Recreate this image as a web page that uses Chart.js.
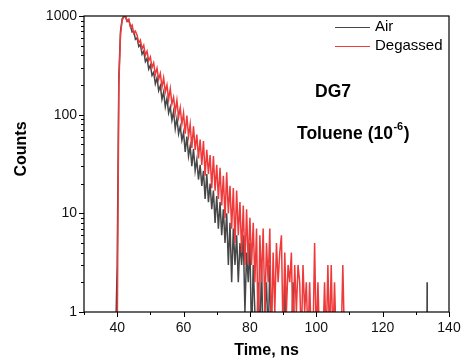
<!DOCTYPE html>
<html>
<head>
<meta charset="utf-8">
<script src="https://cdn.jsdelivr.net/npm/chart.js@4.4.1/dist/chart.umd.min.js"></script>
<style>
  html, body { margin: 0; padding: 0; background: #fff; }
  canvas { display: block; }
</style>
</head>
<body>
<canvas id="decay" width="464" height="364"></canvas>
<script>
// Time channels (ns)
const times = [
  39.5, 40, 40.5, 41, 41.5, 42, 42.5, 43, 43.5, 44,
  44.5, 45, 45.5, 46, 46.5, 47, 47.5, 48, 48.5, 49,
  49.5, 50, 50.5, 51, 51.5, 52, 52.5, 53, 53.5, 54,
  54.5, 55, 55.5, 56, 56.5, 57, 57.5, 58, 58.5, 59,
  59.5, 60, 60.5, 61, 61.5, 62, 62.5, 63, 63.5, 64,
  64.5, 65, 65.5, 66, 66.5, 67, 67.5, 68, 68.5, 69,
  69.5, 70, 70.5, 71, 71.5, 72, 72.5, 73, 73.5, 74,
  74.5, 75, 75.5, 76, 76.5, 77, 77.5, 78, 78.5, 79,
  79.5, 80, 80.5, 81, 81.5, 82, 82.5, 83, 83.5, 84,
  84.5, 85, 85.5, 86, 86.5, 87, 87.5, 88, 88.5, 89,
  89.5, 90, 90.5, 91, 91.5, 92, 92.5, 93, 93.5, 94,
  94.5, 95, 95.5, 96, 96.5, 97, 97.5, 98, 98.5, 99,
  99.5, 100, 100.5, 101, 101.5, 102, 102.5, 103, 103.5, 104,
  104.5, 105, 105.5, 106, 106.5, 107, 107.5, 108, 108.5, 109,
  109.5, 110
];

// Counts per channel (0 = empty channel)
const airCounts = [
  0, 3, 240, 700, 935, 990, 985, 880, 905, 790,
  690, 700, 580, 600, 490, 515, 410, 440, 345, 372,
  290, 318, 250, 268, 205, 236, 175, 196, 143, 170,
  120, 146, 104, 120, 88, 108, 72, 92, 64, 76,
  55, 66, 42, 60, 38, 48, 30, 45, 27, 35,
  22, 31, 19, 27, 14, 25, 13, 20, 11, 17,
  8, 15, 7, 13, 6, 11, 5, 10, 3, 8,
  2, 7, 3, 6, 2, 5, 3, 6, 1, 4,
  2, 5, 0, 3, 1, 0, 2, 0, 3, 0,
  1, 2, 0, 3, 0, 0, 1, 0, 0, 1,
  0, 0, 2, 0, 0, 0, 0, 2, 0, 0,
  0, 0, 0, 0, 0, 0, 0, 0, 0, 0,
  0, 0, 0, 0, 0, 0, 0, 0, 0, 0,
  0, 0, 0, 0, 0, 0, 0, 0, 0, 0,
  0, 0
];

const degassedCounts = [
  0, 0, 200, 650, 900, 985, 1000, 890, 930, 770,
  810, 665, 700, 640, 535, 570, 465, 505, 400, 440,
  352, 385, 300, 335, 255, 296, 228, 262, 190, 236,
  170, 200, 142, 184, 128, 150, 106, 140, 94, 118,
  80, 104, 64, 98, 60, 80, 46, 76, 44, 63,
  36, 56, 31, 54, 24, 44, 25, 39, 18, 38,
  17, 31, 14, 29, 12, 24, 9, 26, 10, 19,
  7, 18, 5, 17, 6, 13, 4, 12, 3, 11,
  3, 9, 3, 8, 2, 7, 0, 6, 2, 7,
  1, 5, 2, 7, 0, 4, 1, 5, 2, 4,
  6, 0, 4, 1, 3, 2, 4, 0, 3, 1,
  3, 2, 0, 3, 1, 2, 0, 2, 0, 0,
  5, 0, 2, 0, 0, 0, 2, 0, 3, 0,
  3, 0, 2, 0, 0, 0, 0, 3, 0, 0,
  0, 0
];

// stray count far out in the air trace
const airLateTimes = [133.35, 133.4, 133.45];
const airLateCounts = [0, 2, 0];

const seriesNames = ['Air', 'Degassed'];
const xLabels = [40, 60, 80, 100, 120, 140];
const yTicks = [1, 2, 3, 4, 5, 6, 7, 8, 9,
  10, 20, 30, 40, 50, 60, 70, 80, 90,
  100, 200, 300, 400, 500, 600, 700, 800, 900, 1000];
const yLabels = [1, 10, 100, 1000];
const xTitle = 'Time, ns';
const yTitle = 'Counts';
const sampleName = 'DG7';
const solventText = ['Toluene (10', '-6', ')'];

const FONT = '"Liberation Sans", Arial, sans-serif';
const airColor = '#474747';
const degassedColor = '#ee3a3a';
// empty channels have no log value: drop them below the 1-count axis, like Origin does
const logFloor = 0.5;

const toPoints = (ts, cs) => ts.map((t, i) => ({ x: t, y: cs[i] > 0 ? cs[i] : logFloor }));

// axis frame, tick marks, titles, legend and notes
const decorPlugin = {
  id: 'decor',
  afterDraw(chart) {
    const { ctx, chartArea: a, scales: { x, y } } = chart;
    ctx.save();

    ctx.strokeStyle = '#000';
    ctx.lineWidth = 1;
    ctx.beginPath();
    y.ticks.forEach(t => {
      const py = Math.round(y.getPixelForValue(t.value)) + 0.5;
      const len = yLabels.includes(t.value) ? 5 : 3;
      ctx.moveTo(a.left, py);
      ctx.lineTo(a.left - len, py);
    });
    x.ticks.forEach(t => {
      const px = Math.round(x.getPixelForValue(t.value)) + 0.5;
      const len = xLabels.includes(t.value) ? 5 : 3;
      ctx.moveTo(px, a.bottom);
      ctx.lineTo(px, a.bottom + len);
    });
    ctx.stroke();

    ctx.lineWidth = 1.2;
    ctx.strokeRect(a.left, a.top, a.right - a.left, a.bottom - a.top);

    // axis titles
    ctx.fillStyle = '#000';
    ctx.font = 'bold 16px ' + FONT;
    ctx.textAlign = 'center';
    ctx.textBaseline = 'middle';
    ctx.fillText(xTitle, (a.left + a.right) / 2, 351);
    ctx.save();
    ctx.translate(22, 149);
    ctx.rotate(-Math.PI / 2);
    ctx.fillText(yTitle, 0, 0);
    ctx.restore();

    // legend
    ctx.font = '15px ' + FONT;
    ctx.textAlign = 'left';
    chart.data.datasets.forEach((ds, i) => {
      const ly = 27 + i * 19;
      ctx.strokeStyle = ds.borderColor;
      ctx.lineWidth = 1;
      ctx.beginPath();
      ctx.moveTo(335, ly + 0.5);
      ctx.lineTo(370, ly + 0.5);
      ctx.stroke();
      ctx.fillStyle = '#000';
      ctx.fillText(ds.label, 375, ly);
    });

    // notes
    ctx.font = 'bold 17.5px ' + FONT;
    ctx.textBaseline = 'alphabetic';
    ctx.fillText(sampleName, 315, 97);
    let tx = 297;
    ctx.fillText(solventText[0], tx, 139);
    tx += ctx.measureText(solventText[0]).width;
    ctx.font = 'bold 11px ' + FONT;
    ctx.fillText(solventText[1], tx + 0.5, 130);
    tx += ctx.measureText(solventText[1]).width + 1;
    ctx.font = 'bold 17.5px ' + FONT;
    ctx.fillText(solventText[2], tx, 139);

    ctx.restore();
  }
};

new Chart(document.getElementById('decay'), {
  type: 'line',
  data: {
    datasets: [
      {
        label: seriesNames[0],
        data: toPoints(times, airCounts).concat(toPoints(airLateTimes, airLateCounts)),
        borderColor: airColor,
        borderWidth: 1.5,
        pointRadius: 0,
        tension: 0,
        order: 2
      },
      {
        label: seriesNames[1],
        data: toPoints(times, degassedCounts),
        borderColor: degassedColor,
        borderWidth: 1.5,
        pointRadius: 0,
        tension: 0,
        order: 1
      }
    ]
  },
  options: {
    responsive: false,
    animation: false,
    layout: { padding: { top: 16, right: 15, left: 0, bottom: 0 } },
    plugins: {
      legend: { display: false },
      tooltip: { enabled: false }
    },
    scales: {
      x: {
        type: 'linear',
        min: 30,
        max: 140,
        afterFit: s => { s.height = 52; },
        grid: { display: false, drawTicks: true, tickLength: 5 },
        border: { display: false },
        ticks: {
          stepSize: 10,
          autoSkip: false,
          maxRotation: 0,
          padding: 3,
          color: '#111',
          font: { family: FONT, size: 14 },
          callback: v => (xLabels.includes(v) ? String(v) : '')
        }
      },
      y: {
        type: 'logarithmic',
        min: 1,
        max: 1000,
        afterFit: s => { s.width = 84; },
        afterBuildTicks: s => { s.ticks = yTicks.map(v => ({ value: v })); },
        grid: { display: false, drawTicks: true, tickLength: 5 },
        border: { display: false },
        ticks: {
          autoSkip: false,
          padding: 2,
          color: '#111',
          font: { family: FONT, size: 14 },
          callback: v => (yLabels.includes(v) ? String(v) : '')
        }
      }
    }
  },
  plugins: [decorPlugin]
});
</script>
</body>
</html>
